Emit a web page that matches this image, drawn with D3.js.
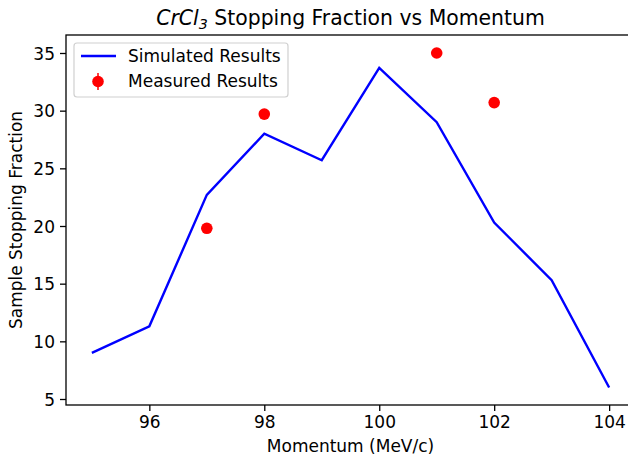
<!DOCTYPE html>
<html>
<head>
<meta charset="utf-8">
<script src="https://cdn.jsdelivr.net/npm/d3@7"></script>
<style>
body { margin: 0; background: #fff; }
svg { font-family: "DejaVu Sans", sans-serif; }
</style>
</head>
<body>
<svg id="chart" width="628" height="457"></svg>
<script>
// simulated curve
var simMomentum = [95, 96, 97, 98, 99, 100, 101, 102, 103, 104];
var simFraction = [9.0, 11.3, 22.7, 28.0, 25.7, 33.7, 29.0, 20.3, 15.3, 6.0];
// measured points
var measMomentum = [97, 98, 101, 102];
var measFraction = [19.8, 29.7, 35.0, 30.7];
var xTicks = [96, 98, 100, 102, 104];
var yTicks = [5, 10, 15, 20, 25, 30, 35];

var margin = {left: 66, top: 35, right: 635, bottom: 405};
var FONT = '17px';
var svg = d3.select('#chart');

var x = d3.scaleLinear().domain([94.55, 104.45]).range([margin.left, margin.right]);
var y = d3.scaleLinear().domain([4.48, 36.56]).range([margin.bottom, margin.top]);

var simData = simMomentum.map(function(m, i) { return {x: m, y: simFraction[i]}; });
var measData = measMomentum.map(function(m, i) { return {x: m, y: measFraction[i]}; });

var line = d3.line()
	.x(function(d) { return x(d.x); })
	.y(function(d) { return y(d.y); });

svg.append('path')
	.datum(simData)
	.attr('d', line)
	.attr('fill', 'none')
	.attr('stroke', '#0000ff')
	.attr('stroke-width', 2.4);

svg.selectAll('circle.meas')
	.data(measData)
	.enter()
	.append('circle')
	.attr('class', 'meas')
	.attr('cx', function(d) { return x(d.x); })
	.attr('cy', function(d) { return y(d.y); })
	.attr('r', 5.8)
	.attr('fill', '#ff0000');

// axes
var bottomAxis = d3.axisBottom(x).tickValues(xTicks).tickSize(6).tickPadding(5);
var gx = svg.append('g')
	.attr('transform', 'translate(0,' + margin.bottom + ')')
	.call(bottomAxis);

var leftAxis = d3.axisLeft(y).tickValues(yTicks).tickSize(6).tickPadding(5);
var gy = svg.append('g')
	.attr('transform', 'translate(' + margin.left + ',0)')
	.call(leftAxis);

[gx, gy].forEach(function(g) {
	g.select('.domain').remove();
	g.attr('font-size', null).attr('font-family', null);
	g.selectAll('.tick line').attr('stroke', '#000').attr('stroke-width', 1.3);
	g.selectAll('.tick text').attr('fill', '#000').style('font-size', FONT);
});
gy.selectAll('.tick text').attr('dy', '0.36em');

// spines
svg.append('rect')
	.attr('x', margin.left)
	.attr('y', margin.top)
	.attr('width', margin.right - margin.left)
	.attr('height', margin.bottom - margin.top)
	.attr('fill', 'none')
	.attr('stroke', '#000')
	.attr('stroke-width', 1.3);

// labels
svg.append('text')
	.attr('x', (margin.left + margin.right) / 2)
	.attr('y', 452)
	.attr('text-anchor', 'middle')
	.style('font-size', FONT)
	.text('Momentum (MeV/c)');

svg.append('text')
	.attr('transform', 'translate(22,' + (margin.top + margin.bottom) / 2 + ') rotate(-90)')
	.attr('text-anchor', 'middle')
	.style('font-size', FONT)
	.text('Sample Stopping Fraction');

var title = svg.append('text')
	.attr('x', (margin.left + margin.right) / 2)
	.attr('y', 25)
	.attr('text-anchor', 'middle')
	.style('font-size', '20.4px');
title.append('tspan').style('font-style', 'italic').text('CrCl');
title.append('tspan').style('font-style', 'italic').style('font-size', '14.3px').attr('dy', 4).text('3');
title.append('tspan').attr('dy', -4).text(' Stopping Fraction vs Momentum');

// legend
var legend = svg.append('g');
legend.append('rect')
	.attr('x', 74).attr('y', 43)
	.attr('width', 214).attr('height', 54)
	.attr('rx', 3)
	.attr('fill', '#fff').attr('fill-opacity', 0.8)
	.attr('stroke', '#d0d0d0').attr('stroke-width', 1.2);
legend.append('line')
	.attr('x1', 81).attr('x2', 116).attr('y1', 56).attr('y2', 56)
	.attr('stroke', '#0000ff').attr('stroke-width', 2.4);
legend.append('text')
	.attr('x', 128).attr('y', 62)
	.style('font-size', FONT)
	.text('Simulated Results');
legend.append('line')
	.attr('x1', 98).attr('x2', 98).attr('y1', 73).attr('y2', 90)
	.attr('stroke', '#ff0000').attr('stroke-width', 1.5);
legend.append('circle')
	.attr('cx', 98).attr('cy', 81.5).attr('r', 5.8)
	.attr('fill', '#ff0000');
legend.append('text')
	.attr('x', 128).attr('y', 87)
	.style('font-size', FONT)
	.text('Measured Results');
</script>
</body>
</html>
